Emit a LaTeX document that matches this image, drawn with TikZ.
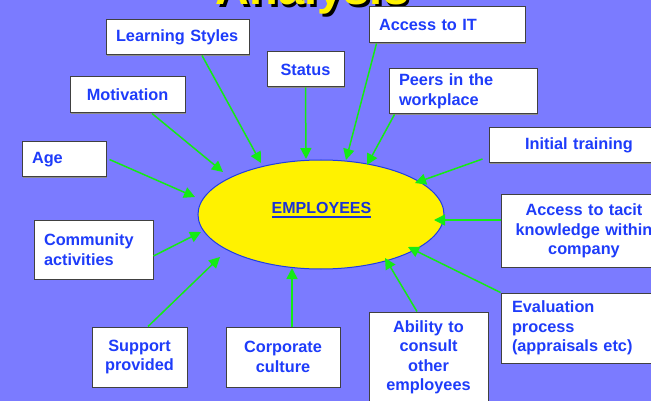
\documentclass[tikz,border=0pt]{standalone}
\usepackage{fontspec}
\setmainfont{Liberation Sans}
\usetikzlibrary{arrows.meta,shadows,shapes.geometric}
\definecolor{bg}{RGB}{123,123,255}
\definecolor{txt}{RGB}{30,60,250}
\definecolor{arrg}{RGB}{20,235,20}
\definecolor{ellb}{RGB}{30,60,230}
\definecolor{emptxt}{RGB}{25,50,215}
\begin{document}
\begin{tikzpicture}[x=1pt,y=-1pt,
  box/.style={draw=black!75, line width=1pt, fill=white,
    drop shadow={shadow xshift=1.2pt, shadow yshift=-1.2pt, fill=black!45, opacity=1},
    inner ysep=0pt, font=\bfseries\fontsize{16.3}{19.5}\selectfont, text=txt},
  lbox/.style={box, align=left, inner xsep=10pt},
  cbox/.style={box, align=center, inner xsep=4pt},
  arr/.style={draw=arrg, line width=1.5pt, -{Triangle[length=11pt,width=11pt]}},
  titlefont/.style={font=\bfseries\fontsize{47}{47}\selectfont, inner sep=0pt, anchor=base}]
\useasboundingbox (0,0) rectangle (651,401);
\fill[bg] (0,0) rectangle (651,401);
\clip (0,0) rectangle (651,401);

% title (cut off at top)
\node[titlefont, text=black] (titleshadow) at (315,7.5) {Analysis};
\node[titlefont, text=yellow] (title) at (312.5,4.5) {Analysis};

% central ellipse
\node[ellipse, draw=ellb, line width=1pt, fill=yellow, minimum width=246pt, minimum height=109pt, inner sep=0pt] (emp) at (321,214.5) {};
\node[inner sep=0pt, font=\bfseries\fontsize{16}{19}\selectfont, text=emptxt, anchor=base] (emptext) at (321.5,214) {EMPLOYEES};
\draw[emptxt, line width=1.8pt] ([yshift=-3pt]emptext.base west) -- ([yshift=-3pt]emptext.base east);

% boxes
\node[lbox, minimum width=143pt, minimum height=35pt, text width=123pt] (learn) at (177.5,37.5) {Learning Styles};
\node[lbox, minimum width=156pt, minimum height=36pt, text width=136pt] (accit) at (447,25) {Access to IT};
\node[cbox, minimum width=77pt, minimum height=35pt, text width=69pt] (status) at (305.5,69.5) {Status};
\node[cbox, minimum width=115pt, minimum height=36pt, text width=107pt] (motiv) at (127.5,95) {Motivation};
\node[lbox, minimum width=148pt, minimum height=45pt, text width=128pt] (peers) at (463,91.5) {Peers in the\\workplace};
\node[lbox, minimum width=84pt, minimum height=35pt, text width=64pt] (age) at (64,159.5) {Age};
\node[cbox, minimum width=180pt, minimum height=35pt, text width=172pt] (init) at (579,145.5) {Initial training};
\node[lbox, minimum width=119pt, minimum height=59pt, text width=99pt] (comm) at (93.5,249.5) {Community\\activities};
\node[cbox, minimum width=166pt, minimum height=72pt, text width=158pt] (tacit) at (584,231) {Access to tacit\\knowledge within\\company};
\node[box, align=left, inner xsep=11pt, minimum width=169pt, minimum height=70pt, text width=147pt] (eval) at (585.5,328) {Evaluation\\process\\(appraisals etc)};
\node[cbox, minimum width=95pt, minimum height=60pt, text width=87pt] (support) at (139.5,357) {Support\\provided};
\node[cbox, minimum width=114pt, minimum height=60pt, text width=106pt] (corp) at (283,357) {Corporate\\culture};
\node[cbox, minimum width=119pt, minimum height=91pt, text width=111pt] (abil) at (428.5,357.5) {Ability to\\consult\\other\\employees};

% arrow tips on the ellipse
\coordinate (tLearn) at (261,163);
\coordinate (tAccit) at (346,160);
\coordinate (tStatus) at (306,159);
\coordinate (tMotiv) at (223,172);
\coordinate (tPeers) at (367,165);
\coordinate (tAge) at (195,197);
\coordinate (tInit) at (415,183);
\coordinate (tComm) at (201,232);
\coordinate (tTacit) at (434,220);
\coordinate (tEval) at (408,247);
\coordinate (tSupport) at (220,257);
\coordinate (tCorp) at (292,268);
\coordinate (tAbil) at (385,258);

% connectors
\draw[arr] ([xshift=24.5pt]learn.south) -- (tLearn);
\draw[arr] ([xshift=8pt]accit.south west) -- (tAccit);
\draw[arr] (status.south) -- (tStatus);
\draw[arr] ([xshift=24.5pt]motiv.south) -- (tMotiv);
\draw[arr] ([xshift=6pt]peers.south west) -- (tPeers);
\draw[arr] ([xshift=3pt]age.east) -- (tAge);
\draw[arr] ([xshift=-6pt,yshift=-13.5pt]init.west) -- (tInit);
\draw[arr] ([yshift=-6.5pt]comm.east) -- (tComm);
\draw[arr] ([yshift=11pt]tacit.west) -- (tTacit);
\draw[arr] (eval.north west) -- (tEval);
\draw[arr] ([xshift=8.5pt]support.north) -- (tSupport);
\draw[arr] ([xshift=9pt]corp.north) -- (tCorp);
\draw[arr] ([xshift=-11.5pt]abil.north) -- (tAbil);
\end{tikzpicture}
\end{document}
